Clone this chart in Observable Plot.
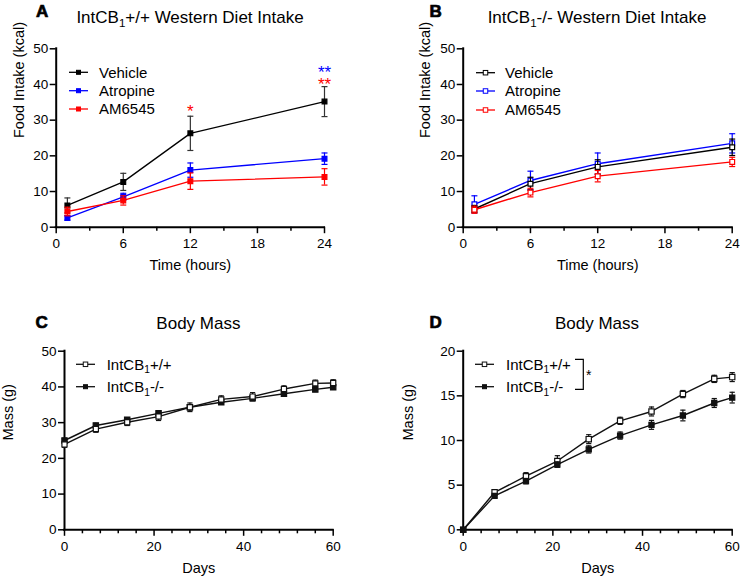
<!DOCTYPE html>
<html>
<head>
<meta charset="utf-8">
<script src="https://cdn.jsdelivr.net/npm/d3@7"></script>
<script src="https://cdn.jsdelivr.net/npm/@observablehq/plot@0.6"></script>
<style>
  html, body { margin: 0; padding: 0; background: #fff; }
  #root { position: relative; width: 740px; height: 578px; overflow: hidden; background: #fff;
          font-family: "Liberation Sans", Arial, Helvetica, sans-serif; color: #000; }
  .panel { position: absolute; width: 370px; height: 289px; }
  .panel svg { position: absolute; left: 0; top: 0; }
  #overlay { position: absolute; left: 0; top: 0; pointer-events: none; }
</style>
</head>
<body>
<div id="root"></div>
<script>
// ---------------- DATA ----------------
// Panels A & B: food intake (kcal) at time points (hours)
const hours = [1, 6, 12, 24];
const drugNames = ["Vehicle", "Atropine", "AM6545"];

const vehicleA = [6.1, 12.7, 26.3, 35.2];
const vehicleAErr = [2.1, 2.4, 4.8, 4.2];
const atropineA = [2.6, 8.5, 16.0, 19.2];
const atropineAErr = [0.6, 1.0, 2.0, 1.6];
const am6545A = [4.4, 7.5, 12.9, 14.1];
const am6545AErr = [1.2, 1.3, 2.3, 2.3];

const vehicleB = [5.1, 12.2, 16.9, 22.4];
const vehicleBErr = [1.0, 1.8, 2.0, 2.3];
const atropineB = [6.4, 13.1, 17.8, 23.5];
const atropineBErr = [2.4, 2.6, 3.0, 2.7];
const am6545B = [4.9, 9.7, 14.3, 18.3];
const am6545BErr = [1.0, 1.2, 1.6, 1.3];

// Significance annotations in panel A
const starX = [12, 24, 24];
const starY = [32.4, 43.3, 39.9];
const starText = ["*", "**", "**"];
const starSeries = ["AM6545", "Atropine", "AM6545"];

// Panels C & D: body mass (g) over days
const days = [0, 7, 14, 21, 28, 35, 42, 49, 56, 60];
const genotypeNames = ["IntCB₁+/+", "IntCB₁-/-"];

const wtC = [23.9, 28.2, 30.1, 31.7, 34.3, 36.5, 37.3, 39.4, 41.0, 41.1];
const wtCErr = [0.8, 0.9, 0.9, 1.1, 1.2, 1.0, 1.1, 0.9, 0.9, 0.9];
const koC = [25.0, 29.2, 30.8, 32.6, 34.3, 35.7, 36.8, 38.1, 39.3, 39.9];
const koCErr = [0.6, 0.6, 0.6, 0.6, 0.7, 0.6, 0.7, 0.6, 0.6, 0.6];

const wtD = [0, 4.2, 6.0, 7.7, 10.15, 12.2, 13.25, 15.2, 16.9, 17.1];
const wtDErr = [0, 0.3, 0.4, 0.6, 0.5, 0.4, 0.5, 0.4, 0.4, 0.5];
const koD = [0, 3.8, 5.45, 7.3, 9.0, 10.55, 11.75, 12.8, 14.2, 14.8];
const koDErr = [0, 0.2, 0.3, 0.3, 0.4, 0.4, 0.5, 0.6, 0.5, 0.6];

// Axis ticks and labels
const hourMajorTicks = [0, 6, 12, 18, 24];
const hourMinorTicks = [3, 9, 15, 21];
const dayMajorTicks = [0, 20, 40, 60];
const dayMinorTicks = [4, 8, 12, 16, 24, 28, 32, 36, 44, 48, 52, 56];
const intakeTicks = [0, 10, 20, 30, 40, 50];
const massTicksC = [0, 10, 20, 30, 40, 50];
const massTicksD = [0, 5, 10, 15, 20];

const panelLetters = ["A", "B", "C", "D"];
const panelTitles = ["IntCB₁+/+ Western Diet Intake", "IntCB₁-/- Western Diet Intake", "Body Mass", "Body Mass"];
const xLabels = ["Time (hours)", "Time (hours)", "Days", "Days"];
const yLabels = ["Food Intake (kcal)", "Food Intake (kcal)", "Mass (g)", "Mass (g)"];

// ---------------- STYLE ----------------
const FONT = '"Liberation Sans", Arial, Helvetica, sans-serif';
const drugColors = {Vehicle: "#000000", Atropine: "#0000ff", AM6545: "#ff0000"};
const drugErrColors = {Vehicle: "#333333", Atropine: "#0000ff", AM6545: "#ff0000"};

const capSymbol = {
  draw(context, size) {
    const w = Math.sqrt(size / Math.PI);
    context.moveTo(-w, 0);
    context.lineTo(w, 0);
  }
};

function seriesMarks(xs, values, errors, opt) {
  const data = xs.map((x, i) => ({x, y: values[i], e: errors[i]}));
  const withErr = data.filter(d => d.e > 0);
  return [
    Plot.line(data, {x: "x", y: "y", stroke: opt.color, strokeWidth: opt.lineWidth || 1.3}),
    Plot.ruleX(withErr, {x: "x", y1: d => d.y - d.e, y2: d => d.y + d.e, stroke: opt.errColor || opt.color, strokeWidth: 1.2}),
    Plot.dot(withErr, {x: "x", y: d => d.y + d.e, symbol: capSymbol, r: opt.cap || 3, stroke: opt.errColor || opt.color, fill: "none", strokeWidth: 1.2}),
    Plot.dot(withErr, {x: "x", y: d => d.y - d.e, symbol: capSymbol, r: opt.cap || 3, stroke: opt.errColor || opt.color, fill: "none", strokeWidth: 1.2}),
    Plot.dot(data, {x: "x", y: "y", symbol: "square", r: opt.r, fill: opt.open ? "#ffffff" : opt.color, stroke: opt.color, strokeWidth: 1.2})
  ];
}

function panel(cfg) {
  const marks = [
    Plot.axisX(cfg.xMinor, {anchor: "bottom", tickSize: 4, fill: "none", strokeWidth: 1.5, label: null}),
    Plot.axisX(cfg.xMajor, {anchor: "bottom", tickSize: 6.5, tickPadding: 5, strokeWidth: 1.5, fontSize: 13.5, label: null}),
    Plot.axisY(cfg.yTicks, {anchor: "left", tickSize: 6, tickPadding: 2, strokeWidth: 1.5, fontSize: 13.5, label: null}),
    Plot.ruleY([cfg.yDomain[0]], {stroke: "#000", strokeWidth: 2, strokeLinecap: "square"}),
    Plot.ruleX([cfg.xDomain[0]], {stroke: "#000", strokeWidth: 2, strokeLinecap: "square"}),
    Plot.text([cfg.yLabel], {text: d => d, frameAnchor: "left", dx: cfg.yLabelDx, rotate: -90, fontSize: 14.5}),
    Plot.text([cfg.xLabel], {text: d => d, frameAnchor: "bottom", dy: 43, lineAnchor: "bottom", fontSize: 14.5}),
    ...cfg.marks
  ];
  return Plot.plot({
    width: 370, height: 289,
    marginLeft: cfg.m[0], marginRight: cfg.m[1], marginTop: cfg.m[2], marginBottom: cfg.m[3],
    x: {domain: cfg.xDomain},
    y: {domain: cfg.yDomain},
    style: {fontFamily: FONT, fontSize: "13.5px", background: "transparent", overflow: "visible", color: "#000"},
    marks
  });
}

// ---------------- PANELS ----------------
const root = document.getElementById("root");
function place(node, left, top) {
  const div = document.createElement("div");
  div.className = "panel";
  div.style.left = left + "px";
  div.style.top = top + "px";
  div.appendChild(node);
  root.appendChild(div);
}

const seriesA = [[vehicleA, vehicleAErr], [atropineA, atropineAErr], [am6545A, am6545AErr]];
const seriesB = [[vehicleB, vehicleBErr], [atropineB, atropineBErr], [am6545B, am6545BErr]];

const marksA = [];
seriesA.forEach(([v, e], i) => {
  const n = drugNames[i];
  marksA.push(...seriesMarks(hours, v, e, {color: drugColors[n], errColor: drugErrColors[n], r: 2.7, cap: 3}));
});
starText.forEach((t, i) => {
  marksA.push(Plot.text([i], {x: () => starX[i], y: () => starY[i], text: () => t, fill: drugColors[starSeries[i]], fontSize: 17}));
});

const marksB = [];
[1, 0, 2].forEach(i => {
  const [v, e] = seriesB[i];
  const n = drugNames[i];
  marksB.push(...seriesMarks(hours, v, e, {color: drugColors[n], r: 2.7, cap: 3, open: true, lineWidth: 1.4}));
});

const marksC = [
  ...seriesMarks(days, koC, koCErr, {color: "#111", r: 3.0, cap: 2.6, lineWidth: 1.4}),
  ...seriesMarks(days, wtC, wtCErr, {color: "#111", r: 2.9, cap: 2.6, open: true, lineWidth: 1.4})
];
const marksD = [
  ...seriesMarks(days, wtD, wtDErr, {color: "#111", r: 3.0, cap: 2.6, open: true, lineWidth: 1.4}),
  ...seriesMarks(days, koD, koDErr, {color: "#111", r: 2.9, cap: 2.6, lineWidth: 1.4})
];

place(panel({m: [55.7, 46, 48.3, 62.3], xDomain: [0, 24], yDomain: [0, 50], xMajor: hourMajorTicks, xMinor: hourMinorTicks,
  yTicks: intakeTicks, xLabel: xLabels[0], yLabel: yLabels[0], yLabelDx: -36.7, marks: marksA}), 0, 0);
place(panel({m: [92.7, 8.3, 48.3, 62.3], xDomain: [0, 24], yDomain: [0, 50], xMajor: hourMajorTicks, xMinor: hourMinorTicks,
  yTicks: intakeTicks, xLabel: xLabels[1], yLabel: yLabels[1], yLabelDx: -37.7, marks: marksB}), 370, 0);
place(panel({m: [64, 37.3, 61.7, 48.7], xDomain: [0, 60], yDomain: [0, 50], xMajor: dayMajorTicks, xMinor: dayMinorTicks,
  yTicks: massTicksC, xLabel: xLabels[2], yLabel: yLabels[2], yLabelDx: -56.5, marks: marksC}), 0, 289);
place(panel({m: [92.7, 8.3, 61.7, 48.7], xDomain: [0, 60], yDomain: [0, 20], xMajor: dayMajorTicks, xMinor: dayMinorTicks,
  yTicks: massTicksD, xLabel: xLabels[3], yLabel: yLabels[3], yLabelDx: -55.2, marks: marksD}), 370, 289);

// ---------------- TITLES, LETTERS, LEGENDS (overlay) ----------------
const svg = d3.select(root).append("svg").attr("id", "overlay")
  .attr("width", 740).attr("height", 578)
  .style("font-family", FONT);

function richText(x, y, str, size, anchor) {
  const t = svg.append("text").attr("x", x).attr("y", y).attr("font-size", size)
    .attr("text-anchor", anchor).attr("fill", "#000");
  const parts = str.split("₁");
  t.append("tspan").text(parts[0]);
  for (let i = 1; i < parts.length; i++) {
    t.append("tspan").attr("dy", size * 0.24).attr("font-size", size * 0.68).text("1");
    t.append("tspan").attr("dy", -size * 0.24).text(parts[i]);
  }
  return t;
}

const letterPos = [[36, 16.7], [429.5, 16.7], [35.5, 328.3], [429.5, 328.3]];
const titlePos = [[190, 22.7], [597, 22.7], [198.4, 329.3], [597, 329.3]];
panelLetters.forEach((L, i) => {
  svg.append("text").attr("x", letterPos[i][0]).attr("y", letterPos[i][1])
    .attr("font-size", 17).attr("font-weight", "bold").attr("stroke", "#000").attr("stroke-width", 0.7)
    .text(L);
  richText(titlePos[i][0], titlePos[i][1], panelTitles[i], 17, "middle");
});

function legend(x1, x2, xt, ys, names, colors, opens, sizes, fontSize) {
  names.forEach((n, i) => {
    const y = ys[i];
    svg.append("line").attr("x1", x1).attr("x2", x2).attr("y1", y).attr("y2", y)
      .attr("stroke", colors[i]).attr("stroke-width", 1.3);
    const s = sizes[i];
    svg.append("rect").attr("x", (x1 + x2) / 2 - s / 2).attr("y", y - s / 2).attr("width", s).attr("height", s)
      .attr("fill", opens[i] ? "#fff" : colors[i]).attr("stroke", colors[i]).attr("stroke-width", 1);
    richText(xt, y + 5.4, n, fontSize, "start");
  });
}

legend(69, 88, 99, [72.3, 90.7, 109], drugNames, drugNames.map(n => drugColors[n]), [false, false, false], [4, 4, 4], 15);
legend(476, 495, 505, [72.7, 91, 110], drugNames, drugNames.map(n => drugColors[n]), [true, true, true], [4.5, 4.5, 4.5], 15);
legend(76, 95, 106.7, [364.3, 386.7], genotypeNames, ["#111", "#111"], [true, false], [4.5, 4], 15);
legend(475, 494, 506, [364.3, 386.7], genotypeNames, ["#111", "#111"], [true, false], [4.5, 4], 15);

// significance bracket in panel D
svg.append("path").attr("d", "M575,359.3H583.3V389.3H575").attr("fill", "none").attr("stroke", "#000").attr("stroke-width", 1.2);
svg.append("text").attr("x", 586).attr("y", 380).attr("font-size", 14).text("*");
</script>
</body>
</html>
